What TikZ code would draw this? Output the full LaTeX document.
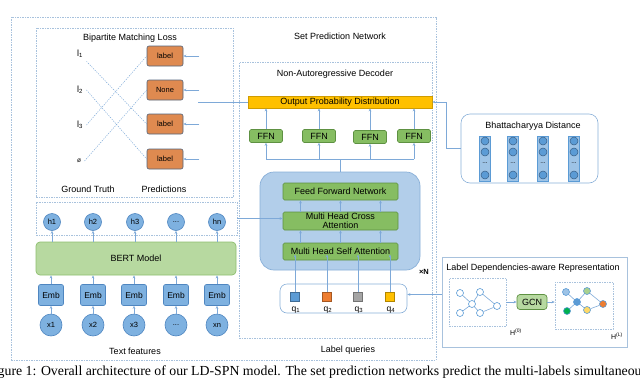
\documentclass[tikz,border=0pt]{standalone}
\usepackage{fontspec}
\setmainfont{Liberation Sans}
\newfontfamily\capfont{Liberation Serif}
\usetikzlibrary{positioning,arrows.meta,calc}

\definecolor{dashc}{HTML}{A8C2DD}
\definecolor{arrc}{HTML}{7EA9D8}
\definecolor{bluef}{HTML}{7EB1E0}
\definecolor{blued}{HTML}{4F86C0}
\definecolor{greenl}{HTML}{B7D9A0}
\definecolor{greenld}{HTML}{8DBE6E}
\definecolor{greenf}{HTML}{86BD62}
\definecolor{greend}{HTML}{5E9142}
\definecolor{decf}{HTML}{B2CEEA}
\definecolor{decd}{HTML}{88AFD8}
\definecolor{opdf}{HTML}{FFC000}
\definecolor{opdd}{HTML}{D09C00}
\definecolor{predf}{HTML}{DF8A50}
\definecolor{predd}{HTML}{51647D}
\definecolor{qblue}{HTML}{5B9BD5}
\definecolor{qorange}{HTML}{ED7D31}
\definecolor{qgray}{HTML}{A5A5A5}
\definecolor{qyellow}{HTML}{FFC000}
\definecolor{qgreen}{HTML}{00B050}
\definecolor{colf}{HTML}{9DC3E6}
\definecolor{lgreen}{HTML}{A9D18E}
\definecolor{lyellow}{HTML}{FFD966}

\begin{document}
\begin{tikzpicture}[x=1pt, y=-1pt,
  every node/.style={font={\fontsize{9}{10}\selectfont}},
  dashbox/.style={draw=dashc, dash pattern=on 1.5pt off 1pt, line width=0.6pt, inner sep=0pt},
  linebox/.style={draw=dashc, line width=0.7pt, inner sep=0pt},
  roundbox/.style={draw=decd, line width=0.6pt, rounded corners=9pt, inner sep=0pt},
  decblock/.style={draw=decd, fill=decf, line width=0.7pt, rounded corners=14pt, inner sep=0pt},
  circ/.style={circle, draw=blued, fill=bluef, line width=0.6pt, inner sep=0pt, font={\fontsize{7.5}{8}\selectfont}},
  embbox/.style={rectangle, rounded corners=2pt, draw=blued, fill=bluef, line width=0.6pt, minimum width=25pt, minimum height=21pt, inner sep=0pt, font={\fontsize{8.5}{9}\selectfont}},
  greenbox/.style={rectangle, rounded corners=1.5pt, draw=greend, fill=greenf, line width=0.6pt, inner sep=0pt, font={\fontsize{9}{9}\selectfont}},
  predbox/.style={rectangle, rounded corners=2pt, draw=predd, fill=predf, line width=0.6pt, minimum width=36pt, minimum height=20pt, inner sep=0pt, font={\fontsize{7.5}{8}\selectfont}},
  qsq/.style={rectangle, draw=#1!70!black, fill=#1, line width=0.4pt, minimum size=9pt, inner sep=0pt},
  colbox/.style={rectangle, draw=qblue, fill=colf, line width=0.6pt, minimum width=11pt, minimum height=45pt, inner sep=0pt},
  bdot/.style={circle, draw=blued!70!black, fill=qblue, line width=0.5pt, minimum size=8pt, inner sep=0pt},
  gnode/.style={circle, draw=qblue, fill=#1, line width=0.6pt, minimum size=7pt, inner sep=0pt},
  arr/.style={draw=arrc, line width=0.6pt, -{Stealth[length=3pt,width=2.6pt]}},
  link/.style={draw=arrc, line width=0.6pt},
  match/.style={draw=arrc, line width=0.5pt, dash pattern=on 1.2pt off 1.2pt}
]
\useasboundingbox (0,0) rectangle (640,378);
\clip (0,0) rectangle (640,378);

% frames
\node[dashbox, minimum width=425pt, minimum height=343pt] (outer) at (223.5,188.5) {};
\node[dashbox, minimum width=197pt, minimum height=169pt] (bml) at (134.5,112.5) {};
\node[dashbox, minimum width=201pt, minimum height=33pt] (hbox) at (136.5,218.5) {};
\node[dashbox, minimum width=193pt, minimum height=276pt] (nad) at (335.5,200) {};
\node[linebox, minimum width=185pt, minimum height=90pt] (ld) at (534.5,302) {};
\node[dashbox, minimum width=57pt, minimum height=48pt] (g0box) at (477.5,302) {};
\node[dashbox, minimum width=58pt, minimum height=47pt] (g1box) at (584,305.5) {};
\node[roundbox, minimum width=137pt, minimum height=69pt] (bd) at (529.5,148.5) {};
\node[roundbox, rounded corners=7pt, minimum width=127pt, minimum height=29pt] (lq) at (343.5,298.5) {};

% titles
\node (tspn) at (340,36) {Set Prediction Network};
\node (tnad) at (335,74) {Non-Autoregressive Decoder};
\node (tbml) at (130,38) {Bipartite Matching Loss};
\node (tbd) at (533,126) {Bhattacharyya Distance};
\node (tld) at (533,268) {Label Dependencies-aware Representation};
\node (ttf) at (135,351) {Text features};
\node (tlq) at (348,350) {Label queries};
\node (tgt) at (88,189) {Ground Truth};
\node (tpr) at (164,189) {Predictions};

% bipartite matching
\node (l1) at (80,54) {l\textsubscript{1}};
\node (l2) at (80,90) {l\textsubscript{2}};
\node (l3) at (80,125) {l\textsubscript{3}};
\node[font={\fontsize{6.5}{7}\selectfont}] (l4) at (79,161) {ø};
\node[predbox] (p1) at (165,56) {label};
\node[predbox] (p2) at (165,90) {None};
\node[predbox] (p3) at (165,124) {label};
\node[predbox] (p4) at (165,159) {label};
\draw[match] (l1.south east) -- (p3.west);
\draw[match] (l2.east) -- (p4.west);
\draw[match] (l3.east) -- (p1.west);
\draw[match] (l4.east) -- (p2.west);
\draw[arr] ([xshift=16pt]p1.east) -- (p1.east);
\draw[arr] ([xshift=16pt]p2.east) -- (p2.east);
\draw[arr] ([xshift=16pt]p3.east) -- (p3.east);
\draw[arr] ([xshift=16pt]p4.east) -- (p4.east);

% text encoder
\node[circ, minimum size=17pt] (h1) at (52,222) {h1};
\node[circ, minimum size=17pt] (h2) at (93,222) {h2};
\node[circ, minimum size=17pt] (h3) at (135,222) {h3};
\node[circ, minimum size=17pt] (h4) at (176,222) {...};
\node[circ, minimum size=17pt] (h5) at (217,222) {hn};
\node[rectangle, rounded corners=4pt, draw=greenld, fill=greenl, line width=0.7pt, minimum width=200pt, minimum height=33pt] (bert) at (136,258.5) {BERT Model};
\node[embbox] (e1) at (51,295) {Emb};
\node[embbox] (e2) at (93,295) {Emb};
\node[embbox] (e3) at (134,295) {Emb};
\node[embbox] (e4) at (176,295) {Emb};
\node[embbox] (e5) at (217,295) {Emb};
\node[circ, minimum size=22pt] (x1) at (51,325) {x1};
\node[circ, minimum size=22pt] (x2) at (93,325) {x2};
\node[circ, minimum size=22pt] (x3) at (134,325) {x3};
\node[circ, minimum size=22pt] (x4) at (176,325) {...};
\node[circ, minimum size=22pt] (x5) at (217,325) {xn};
\draw[arr] (x1) -- (e1);
\draw[arr] (x2) -- (e2);
\draw[arr] (x3) -- (e3);
\draw[arr] (x4) -- (e4);
\draw[arr] (x5) -- (e5);
\draw[arr] (e1.north) -- (e1.north |- bert.south);
\draw[arr] (e2.north) -- (e2.north |- bert.south);
\draw[arr] (e3.north) -- (e3.north |- bert.south);
\draw[arr] (e4.north) -- (e4.north |- bert.south);
\draw[arr] (e5.north) -- (e5.north |- bert.south);
\draw[arr] (h1.south |- bert.north) -- (h1.south);
\draw[arr] (h2.south |- bert.north) -- (h2.south);
\draw[arr] (h3.south |- bert.north) -- (h3.south);
\draw[arr] (h4.south |- bert.north) -- (h4.south);
\draw[arr] (h5.south |- bert.north) -- (h5.south);

% decoder
\node[decblock, minimum width=160pt, minimum height=98pt] (dec) at (340,221) {};
\node[greenbox, minimum width=115pt, minimum height=17pt] (ffn) at (340.5,191.5) {Feed Forward Network};
\node[greenbox, minimum width=115pt, minimum height=18pt, align=center] (cross) at (340.5,221) {Multi Head Cross\\Attention};
\node[greenbox, minimum width=115pt, minimum height=17pt] (self) at (340.5,251.5) {Multi Head Self Attention};
\node[font={\fontsize{7.5}{9}\selectfont\bfseries}] (xn) at (424,272) {×N};
\draw[arr] ([xshift=-40pt]self.north) -- ([xshift=-40pt]cross.south);
\draw[arr] (self.north) -- (cross.south);
\draw[arr] ([xshift=40pt]self.north) -- ([xshift=40pt]cross.south);
\draw[arr] ([xshift=-40pt]cross.north) -- ([xshift=-40pt]ffn.south);
\draw[arr] (cross.north) -- (ffn.south);
\draw[arr] ([xshift=40pt]cross.north) -- ([xshift=40pt]ffn.south);
\draw[arr] (hbox.east) -- (hbox.east -| cross.west);

% label queries
\node[qsq=qblue] (q1) at (295,297) {};
\node[qsq=qorange] (q2) at (327,297) {};
\node[qsq=qgray] (q3) at (358,297) {};
\node[qsq=qyellow] (q4) at (390,297) {};
\node[font={\fontsize{8.5}{9}\selectfont}] (tq1) at (296,310) {q\textsubscript{1}};
\node[font={\fontsize{8.5}{9}\selectfont}] (tq2) at (328,310) {q\textsubscript{2}};
\node[font={\fontsize{8.5}{9}\selectfont}] (tq3) at (359,310) {q\textsubscript{3}};
\node[font={\fontsize{8.5}{9}\selectfont}] (tq4) at (391,310) {q\textsubscript{4}};
\draw[arr] (q1.north) -- ($(q1.north |- self.center)+(0,3)$);
\draw[arr] (q2.north) -- ($(q2.north |- self.center)+(0,3)$);
\draw[arr] (q3.north) -- ($(q3.north |- self.center)+(0,3)$);
\draw[arr] (q4.north) -- ($(q4.north |- self.center)+(0,3)$);

% output head
\node[rectangle, draw=opdd, fill=opdf, line width=0.6pt, minimum width=184pt, minimum height=12pt, inner sep=0pt] (opd) at (340,102) {Output Probability Distribution};
\node[greenbox, minimum width=33pt, minimum height=13pt] (f1) at (266,136) {FFN};
\node[greenbox, minimum width=33pt, minimum height=13pt] (f2) at (319,136) {FFN};
\node[greenbox, minimum width=33pt, minimum height=13pt] (f3) at (370,137) {FFN};
\node[greenbox, minimum width=33pt, minimum height=13pt] (f4) at (414,136) {FFN};
\coordinate (br) at (340,159);
\draw[link] (dec.north) -- (br);
\draw[link] (f1.south |- br) -- (f4.south |- br);
\draw[arr] (f1.south |- br) -- (f1.south);
\draw[arr] (f2.south |- br) -- (f2.south);
\draw[arr] (f3.south |- br) -- (f3.south);
\draw[arr] (f4.south |- br) -- (f4.south);
\draw[arr] (f1.north) -- (f1.north |- opd.south);
\draw[arr] (f2.north) -- (f2.north |- opd.south);
\draw[arr] (f3.north) -- (f3.north |- opd.south);
\draw[arr] (f4.north) -- (f4.north |- opd.south);
\draw[link] (opd.west) -- ++(-50,0);
\draw[arr] (bd.west) -- ++(-14,0) |- (opd.east);

% bhattacharyya columns
\node[colbox] (c1) at (485,158.5) {};
\node[colbox] (c2) at (513,158.5) {};
\node[colbox] (c3) at (543,158.5) {};
\node[colbox] (c4) at (574,158.5) {};
\node[bdot] (c1a) at (485,141) {}; \node[bdot] (c1b) at (485,152) {}; \node[bdot] (c1d) at (485,175) {};
\node[bdot] (c2a) at (513,141) {}; \node[bdot] (c2b) at (513,152) {}; \node[bdot] (c2d) at (513,175) {};
\node[bdot] (c3a) at (543,141) {}; \node[bdot] (c3b) at (543,152) {}; \node[bdot] (c3d) at (543,175) {};
\node[bdot] (c4a) at (574,141) {}; \node[bdot] (c4b) at (574,152) {}; \node[bdot] (c4d) at (574,175) {};
\node[font={\fontsize{6.5}{7}\selectfont}] (c1c) at (485,163) {...};
\node[font={\fontsize{6.5}{7}\selectfont}] (c2c) at (513,163) {...};
\node[font={\fontsize{6.5}{7}\selectfont}] (c3c) at (543,163) {...};
\node[font={\fontsize{6.5}{7}\selectfont}] (c4c) at (574,163) {...};

% label graph
\node[gnode=white] (n1) at (460,293) {};
\node[gnode=white] (n2) at (480,292) {};
\node[gnode=white] (n3) at (472,304) {};
\node[gnode=white] (n4) at (460,313) {};
\node[gnode=white] (n5) at (480,313) {};
\node[gnode=white] (n6) at (497,306) {};
\draw[link] (n1) -- (n3);
\draw[link] (n2) -- (n3);
\draw[link] (n3) -- (n4);
\draw[link] (n3) -- (n5);
\draw[link] (n2) -- (n6);
\draw[link] (n5) -- (n6);
\node[rectangle, rounded corners=3pt, draw=greend, fill=greenl, line width=0.7pt, minimum width=30pt, minimum height=15pt, inner sep=0pt] (gcn) at (532,302) {GCN};
\node[gnode=colf] (m1) at (566,292) {};
\node[gnode=lgreen] (m2) at (587,291) {};
\node[gnode=qblue] (m3) at (577,302) {};
\node[gnode=qgreen] (m4) at (567,311) {};
\node[gnode=lyellow] (m5) at (587,310) {};
\node[gnode=qorange] (m6) at (603,304) {};
\draw[link] (m1) -- (m3);
\draw[link] (m2) -- (m3);
\draw[link] (m3) -- (m4);
\draw[link] (m3) -- (m5);
\draw[link] (m2) -- (m6);
\draw[link] (m5) -- (m6);
\draw[arr] (g0box.east |- gcn.west) -- (gcn.west);
\draw[arr] (gcn.east) -- (gcn.east -| g1box.west);
\node[font={\fontsize{7}{8}\selectfont}] (h0) at (516,332) {H\textsuperscript{(0)}};
\node[font={\fontsize{7}{8}\selectfont}] (hl) at (617,336) {H\textsuperscript{(L)}};
\coordinate (lqin) at ([yshift=4pt]lq.east);
\draw[arr] (lqin -| ld.west) -- (lqin);

% caption
\node[anchor=base west, inner sep=0pt, font={\capfont\fontsize{13.8}{15}\selectfont}] (cap) at (-14,375) {Figure 1: Overall architecture of our LD-SPN model. The set prediction networks predict the multi-labels simultaneously};
\end{tikzpicture}
\end{document}
